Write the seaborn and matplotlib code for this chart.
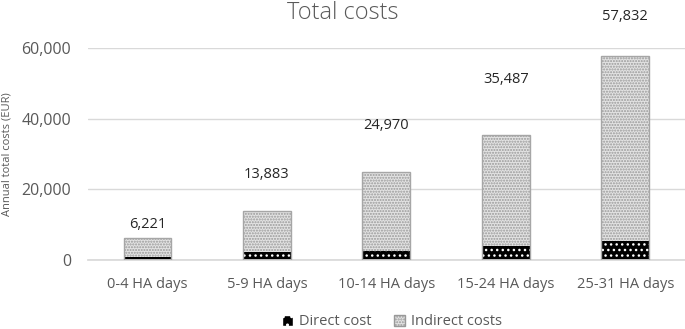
import matplotlib
matplotlib.use("Agg")
import matplotlib.pyplot as plt
import seaborn as sns
import pandas as pd
from matplotlib.patches import Patch, Rectangle

categories = ["0-4 HA days", "5-9 HA days", "10-14 HA days", "15-24 HA days", "25-31 HA days"]
direct_cost = [900, 2200, 2500, 3900, 5300]
total_cost = [6221, 13883, 24970, 35487, 57832]
total_labels = ["6,221", "13,883", "24,970", "35,487", "57,832"]
yticks = [0, 20000, 40000, 60000]
ytick_labels = ["0", "20,000", "40,000", "60,000"]

label_offsets = [4, 21, 28, 34, 23]  # points above bar top (layout only)

sns.set_theme(style="white")
plt.rcParams["font.family"] = ["Open Sans", "DejaVu Sans"]
plt.rcParams["hatch.linewidth"] = 1.0

df = pd.DataFrame({"cat": categories, "direct": direct_cost, "total": total_cost})

fig = plt.figure(figsize=(6.85, 3.29), dpi=100)
ax = fig.add_axes([0.128, 0.2097, 0.872, 0.6444])

grey = "#595959"
sns.barplot(data=df, x="cat", y="total", ax=ax, width=0.4, color="#e3e3e3",
            edgecolor="#999999", linewidth=0, saturation=1)
n = len(categories)
for p in ax.patches[:n]:
    p.set_hatch("......")
sns.barplot(data=df, x="cat", y="direct", ax=ax, width=0.4, color="black",
            edgecolor="white", linewidth=0, saturation=1)
for p in ax.patches[n:2 * n]:
    p.set_hatch("...")
# outlines
for p in list(ax.patches[:n]):
    ax.add_patch(Rectangle((p.get_x(), p.get_y()), p.get_width(), p.get_height(),
                           fill=False, edgecolor="#a6a6a6", linewidth=1, zorder=5))

ax.set_ylim(0, 60000)
ax.set_xlim(-0.5, n - 0.5)
ax.set_yticks(yticks)
ax.set_yticklabels(ytick_labels)
ax.yaxis.grid(True, color="#d9d9d9", linewidth=1)
ax.set_axisbelow(True)
for s in ["left", "right", "top"]:
    ax.spines[s].set_visible(False)
ax.spines["bottom"].set_color("#d9d9d9")
ax.tick_params(axis="x", length=0, labelsize=10.5, colors=grey, pad=12)
ax.tick_params(axis="y", length=0, labelsize=11.5, colors=grey, pad=12)
ax.set_xlabel("")
ax.set_ylabel("Annual total costs (EUR)", fontsize=8, color=grey, labelpad=6)
fig.text(0.5, 0.962, "Total costs", fontsize=17, color=grey, ha="center",
         va="center", fontweight="light")

for i, p in enumerate(ax.patches[:n]):
    ax.annotate(total_labels[i], (p.get_x() + p.get_width() / 2, p.get_height()),
                xytext=(0, label_offsets[i]), textcoords="offset points",
                ha="center", va="bottom", fontsize=10.5, color="#262626",
                annotation_clip=False)

handles = [Patch(facecolor="black", edgecolor="white", hatch="..", label="Direct cost"),
           Patch(facecolor="#e3e3e3", edgecolor="#999999", hatch="......", label="Indirect costs")]
leg = fig.legend(handles=handles, loc="center", bbox_to_anchor=(0.572, 0.022),
                 ncol=2, frameon=False, fontsize=10.5, handlelength=0.8,
                 handleheight=0.8, handletextpad=0.4, columnspacing=1.5)
for t in leg.get_texts():
    t.set_color(grey)

fig.savefig("out.png", dpi=100)
